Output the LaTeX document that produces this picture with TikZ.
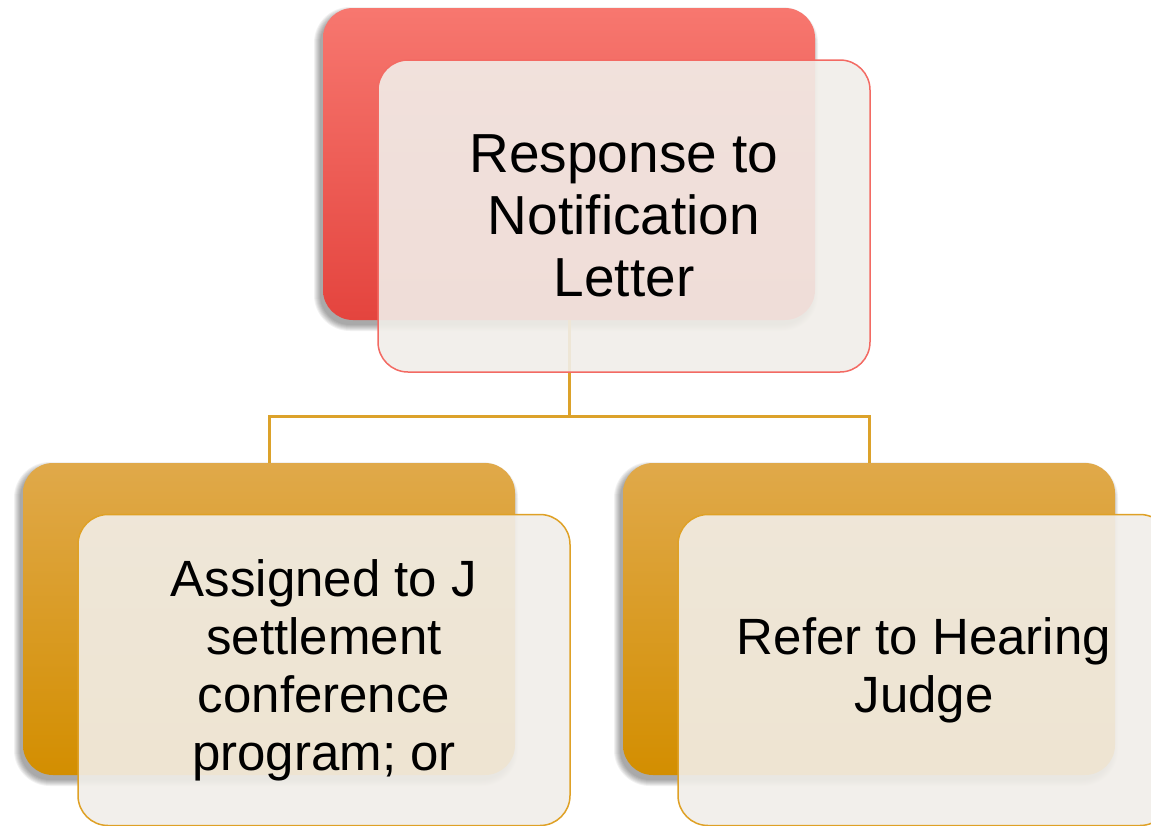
\documentclass[tikz,border=0pt]{standalone}
\usepackage{fontspec}
\setmainfont{Liberation Sans}
\definecolor{redtop}{HTML}{F7776F}
\definecolor{redmid}{HTML}{F95B53}
\definecolor{redbot}{HTML}{E4443E}
\definecolor{goldtop}{HTML}{E0A94A}
\definecolor{goldmid}{HTML}{E29F12}
\definecolor{goldbot}{HTML}{D38E00}
\definecolor{paper}{HTML}{F1EEE9}
\definecolor{redline}{HTML}{F36A63}
\definecolor{goldline}{HTML}{DFA126}
\definecolor{connline}{HTML}{DCA22A}
\pgfdeclarelayer{ground}
\pgfdeclarelayer{shade}
\pgfsetlayers{ground,shade,main}
\tikzset{
  card/.style={rounded corners=30pt, minimum width=492pt, inner sep=0pt, outer sep=0pt},
  backred/.style={card, minimum height=312pt, top color=redtop, middle color=redmid, bottom color=redbot},
  backgold/.style={card, minimum height=312pt, top color=goldtop, middle color=goldmid, bottom color=goldbot},
  frontred/.style={card, minimum height=312pt, fill=paper, fill opacity=0.9, text opacity=1, draw=redline, line width=1.5pt, align=center, font=\fontsize{55}{62}\selectfont},
  frontgold/.style={card, minimum height=311pt, fill=paper, fill opacity=0.9, text opacity=1, draw=goldline, line width=1.5pt, align=center, font=\fontsize{51}{58}\selectfont},
  conn/.style={draw=connline, line width=3pt},
  shadowlayer/.style={fill=black, fill opacity=0.055}
}
\begin{document}
\begin{tikzpicture}[x=1pt,y=-1pt]
\path[use as bounding box, clip] (0,0) rectangle (1151,825);
\begin{pgfonlayer}{ground}
\fill[white] (0,0) rectangle (1151,825);
\end{pgfonlayer}
% back cards
\node[backred] (topback) at (569,164) {};
\node[backgold] (leftback) at (269,619) {};
\node[backgold] (rightback) at (869,619) {};
% soft drop shadows of the back cards
\begin{pgfonlayer}{shade}
\foreach \n in {topback,leftback,rightback}{
  \foreach \e in {0,1,2,3,4,5,6}{
    \fill[shadowlayer, rounded corners=30pt+\e pt]
      ([shift={(-3-\e,-\e+5)}]\n.north west) rectangle ([shift={(-3+\e,5+\e)}]\n.south east);
  }
}
\end{pgfonlayer}
% connectors
\coordinate (bus) at (569,416);
\draw[conn] (topback.south) -- (bus) -| (leftback.north);
\draw[conn] (bus) -| (rightback.north);
% front cards
\node[frontred] (topfront) at (624,216) {Response to\\Notification\\Letter};
\node[frontgold] (leftfront) at (324,670) {Assigned to J\\settlement\\conference\\program; or};
\node[frontgold] (rightfront) at (924,670) {Refer to Hearing\\Judge};
\end{tikzpicture}
\end{document}
